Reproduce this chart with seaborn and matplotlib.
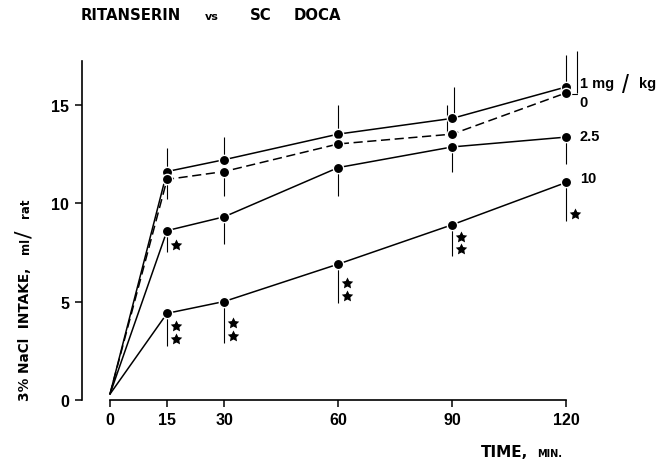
import matplotlib
matplotlib.use('Agg')
import matplotlib.pyplot as plt
import seaborn as sns
import pandas as pd

# data (intake, ml/rat)
time = [0, 15, 30, 60, 90, 120]
dose_labels = ['1 mg/kg', '0', '2.5', '10']
intake_1 = [0.3, 11.6, 12.2, 13.5, 14.3, 15.9]
intake_0 = [0.3, 11.2, 11.6, 13.0, 13.5, 15.6]
intake_25 = [0.3, 8.6, 9.3, 11.8, 12.85, 13.35]
intake_10 = [0.3, 4.4, 5.0, 6.9, 8.9, 11.05]

# end of the one-sided error bars (None = not drawn)
err_1 = [None, 12.8, 13.35, 15.0, 15.9, 17.5]
err_0 = [None, 10.2, 10.35, None, 15.0, 17.7]
err_25 = [None, 7.5, 7.9, 10.35, 11.6, 12.0]
err_10 = [None, 2.75, 2.9, 4.95, 7.3, 9.1]

# number of significance stars
stars_25 = [0, 1, 0, 0, 0, 0]
stars_10 = [0, 2, 2, 2, 2, 1]

sns.set_style('ticks')
plt.rcParams['font.family'] = ['Liberation Sans', 'DejaVu Sans']
plt.rcParams.update({'text.color': 'black', 'axes.edgecolor': 'black',
                     'xtick.color': 'black', 'ytick.color': 'black',
                     'axes.labelcolor': 'black'})

series = [intake_1, intake_0, intake_25, intake_10]
errors = [err_1, err_0, err_25, err_10]
df = pd.DataFrame({
    'time': time * 4,
    'intake': sum(series, []),
    'dose': [d for d in dose_labels for _ in time],
})

fig = plt.figure(figsize=(6.6, 4.64), dpi=100)
ax = fig.add_axes([0.124, 0.1358, 0.861, 0.764])

sns.lineplot(data=df, x='time', y='intake', hue='dose', style='dose',
             palette=['black'] * 4,
             dashes={'1 mg/kg': '', '0': (6, 3), '2.5': '', '10': ''},
             lw=1.1, legend=False, ax=ax)
sns.scatterplot(data=df[df['time'] > 0], x='time', y='intake', color='black',
                s=55, edgecolor='white', linewidth=1.0, legend=False, ax=ax, zorder=3)

# error bars (a few are drawn slightly beside the point in the original)
bar_shift = [[0, 0, 0, 0, 0.5, 0], [0, 0, 0, 0, -1.3, 2.9], [0] * 6, [0] * 6]
for vals, errs, shifts in zip(series, errors, bar_shift):
    for t, v, e, dx in zip(time, vals, errs, shifts):
        if e is None:
            continue
        ax.vlines(t + dx, min(v, e), max(v, e), color='black', lw=0.8, zorder=2)
        if dx > 2:
            ax.plot([t, t + dx], [v - 0.05, v - 0.05], color='black', lw=0.8)

# significance stars below the lower bars
for errs, nst in [(err_25, stars_25), (err_10, stars_10)]:
    for t, e, n in zip(time, errs, nst):
        for j in range(n):
            ax.scatter(t + 2.3, e + 0.35 + 0.65 * j, marker=(5, 1, 0), s=75,
                       color='black', linewidths=0, zorder=3)

# labels of the curves
label_dy = [0.2, -0.45, 0.05, 0.2]
for vals, lab, dy in zip(series, ['1 mg', '0', '2.5', '10'], label_dy):
    ax.text(123.5, vals[-1] + dy, lab, fontsize=10.5, fontweight='bold',
            va='center', ha='left')
ax.text(134.5, 16.0, '/', fontsize=18, va='center', ha='left')
ax.text(139.0, 16.1, 'kg', fontsize=10.5, fontweight='bold', va='center', ha='left')

ax.set_xlim(-7.4, 142)
ax.set_ylim(0, 18)
ax.set_xticks(time)
ax.set_yticks([0, 5, 10, 15])
ax.tick_params(direction='out', length=5, width=1.1, labelsize=11.5, pad=4)
for lbl in ax.get_xticklabels() + ax.get_yticklabels():
    lbl.set_fontweight('bold')
ax.set_xlabel('')
ax.set_ylabel('')
sns.despine(ax=ax)
ax.spines['left'].set_bounds(0, 17.2)
ax.spines['bottom'].set_bounds(0, 120)
for s in ['left', 'bottom']:
    ax.spines[s].set_linewidth(1.2)

# title
tfont = dict(family='DejaVu Sans', fontweight='bold', va='center')
fig.text(81 / 660, 1 - 16 / 464, 'RITANSERIN', fontsize=10.7, **tfont)
fig.text(205 / 660, 1 - 17 / 464, 'vs', fontsize=8, **tfont)
fig.text(250 / 660, 1 - 16 / 464, 'SC', fontsize=10.7, **tfont)
fig.text(294 / 660, 1 - 16 / 464, 'DOCA', fontsize=10.7, **tfont)

# axis labels
lfont = dict(family='DejaVu Sans', fontweight='bold', rotation=90, ha='center', va='bottom')
fig.text(25 / 660, 1 - 401 / 464, '3% NaCl  INTAKE,', fontsize=9.8, **lfont)
fig.text(25 / 660, 1 - 254 / 464, 'ml', fontsize=8.5, **lfont)
fig.text(25 / 660, 1 - 238 / 464, '/', fontsize=16, family='DejaVu Sans',
         rotation=90, ha='center', va='bottom')
fig.text(25 / 660, 1 - 218 / 464, 'rat', fontsize=8.5, **lfont)
fig.text(481 / 660, 1 - 453 / 464, 'TIME,', fontsize=11, family='DejaVu Sans',
         fontweight='bold', va='center')
fig.text(537 / 660, 1 - 454 / 464, 'MIN.', fontsize=7, family='DejaVu Sans',
         fontweight='bold', va='center')

fig.savefig('out.png', dpi=100)
